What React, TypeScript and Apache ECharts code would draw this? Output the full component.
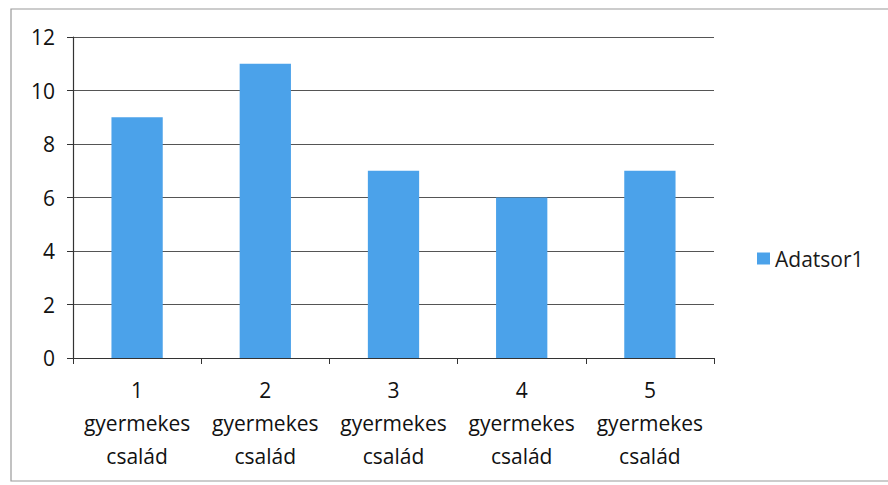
import React, { useEffect, useRef } from "react";
import * as echarts from "echarts";

const categories = ["1\ngyermekes\ncsalád", "2\ngyermekes\ncsalád", "3\ngyermekes\ncsalád", "4\ngyermekes\ncsalád", "5\ngyermekes\ncsalád"];
const seriesName = "Adatsor1";
const values = [9, 11, 7, 6, 7];

export default function App() {
  const ref = useRef<HTMLDivElement>(null);
  useEffect(() => {
    const chart = echarts.init(ref.current!, null, { renderer: "svg" });
    const font = "'Open Sans', Lato, sans-serif";
    chart.setOption({
      animation: false,
      backgroundColor: "#ffffff",
      textStyle: { fontFamily: font },
      graphic: [
        {
          type: "rect",
          shape: { x: 11, y: 9, width: 890, height: 472 },
          style: { fill: "none", stroke: "#9a9a9a", lineWidth: 1.2 },
          silent: true,
        },
      ],
      legend: {
        left: 752,
        top: 243,
        orient: "vertical",
        itemWidth: 13,
        itemHeight: 12,
        itemGap: 6,
        textStyle: { fontSize: 21, color: "#1a1a1a", fontFamily: font, fontWeight: 500 },
        data: [{ name: seriesName, icon: "rect" }],
      },
      grid: { left: 73, top: 37, right: 174, bottom: 127, containLabel: false },
      xAxis: {
        type: "category",
        data: categories,
        axisLine: { lineStyle: { color: "#333", width: 1.2 } },
        axisTick: { show: true, alignWithLabel: false, length: 6, lineStyle: { color: "#333" } },
        axisLabel: {
          interval: 0,
          margin: 15,
          fontSize: 21,
          fontWeight: 500,
          lineHeight: 33,
          color: "#111",
          fontFamily: font,
        },
      },
      yAxis: {
        type: "value",
        min: 0,
        max: 12,
        interval: 2,
        axisLine: { show: true, lineStyle: { color: "#333", width: 1.2 } },
        axisTick: { show: true, length: 6, lineStyle: { color: "#333" } },
        splitLine: { lineStyle: { color: "#555", width: 1 } },
        axisLabel: { fontSize: 21, fontWeight: 500, margin: 18, color: "#111", fontFamily: font },
      },
      series: [
        {
          name: seriesName,
          type: "bar",
          data: values,
          barCategoryGap: "60%",
          itemStyle: { color: "#4ba2ea" },
        },
      ],
    });
    return () => chart.dispose();
  }, []);
  return (
    <div
      ref={ref}
      style={{ position: "fixed", left: 0, top: 0, width: 888, height: 485 }}
    />
  );
}
